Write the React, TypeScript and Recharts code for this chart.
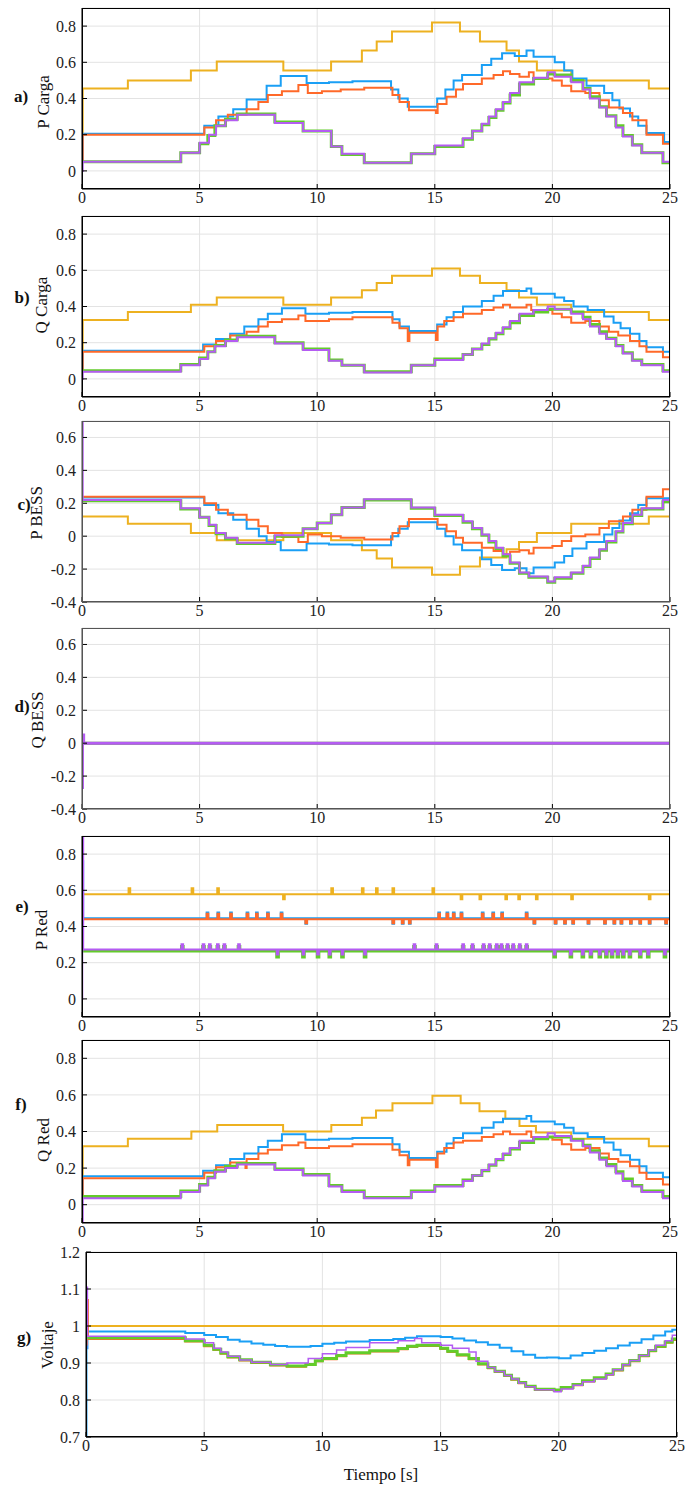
import React from 'react';
import { LineChart, Line, XAxis, YAxis, CartesianGrid } from 'recharts';

const YELLOW = '#EDB120';
const BLUE = '#1A9FF5';
const RED = '#FF6929';
const GREEN = '#63CC2A';
const PURPLE = '#B45CF2';

const X_TICKS = [0, 5, 10, 15, 20, 25];
const TICKS_LOAD = [0, 0.2, 0.4, 0.6, 0.8];
const TICKS_BESS = [-0.4, -0.2, 0, 0.2, 0.4, 0.6];
const TICKS_VOLT = [0.7, 0.8, 0.9, 1, 1.1, 1.2];

type Pt = [number, number];

// a) P Carga
const aYellow: Pt[] = [[0, 0.2], [0.03, 0.455], [1.95, 0.5], [4.63, 0.555], [5.73, 0.605], [8.56, 0.555], [10.59, 0.605], [11.9, 0.665], [12.53, 0.715], [13.18, 0.77], [14.88, 0.82], [16.07, 0.77], [16.92, 0.715], [18.05, 0.665], [18.58, 0.605], [19.34, 0.555], [20.8, 0.5], [24.1, 0.455], [25, 0.455]];
const aBlue: Pt[] = [[0, 0.05], [0.03, 0.205], [5.2, 0.25], [5.8, 0.3], [6.43, 0.34], [7.0, 0.395], [7.85, 0.47], [8.45, 0.525], [9.55, 0.485], [10.5, 0.49], [11.5, 0.495], [13.14, 0.45], [13.45, 0.4], [13.85, 0.355], [15.1, 0.4], [15.45, 0.45], [15.8, 0.5], [16.16, 0.53], [17.0, 0.585], [17.4, 0.62], [17.86, 0.65], [18.4, 0.635], [18.9, 0.665], [19.2, 0.63], [20.1, 0.6], [20.5, 0.555], [20.85, 0.51], [21.45, 0.47], [22.2, 0.43], [22.55, 0.39], [22.85, 0.345], [23.3, 0.3], [23.65, 0.25], [24.0, 0.21], [24.75, 0.16], [25, 0.16]];
const aRed: Pt[] = [[0, 0.05], [0.03, 0.2], [5.2, 0.24], [5.7, 0.28], [6.2, 0.31], [7.0, 0.34], [7.5, 0.38], [7.9, 0.42], [8.5, 0.44], [9.2, 0.475], [9.6, 0.43], [10.2, 0.44], [11.0, 0.45], [12.0, 0.46], [13.2, 0.42], [13.5, 0.38], [13.9, 0.335], [15.05, 0.32], [15.12, 0.37], [15.5, 0.41], [15.9, 0.45], [16.2, 0.48], [17.0, 0.51], [17.5, 0.53], [17.9, 0.55], [18.2, 0.535], [18.6, 0.52], [19.0, 0.545], [19.2, 0.51], [20.0, 0.5], [20.4, 0.47], [20.8, 0.44], [21.4, 0.43], [22.0, 0.39], [22.4, 0.35], [23.0, 0.32], [23.4, 0.28], [24.0, 0.2], [24.7, 0.15], [25, 0.15]];
const aGreen: Pt[] = [[0, 0.05], [4.2, 0.1], [5.0, 0.15], [5.35, 0.195], [5.65, 0.25], [6.1, 0.285], [6.6, 0.315], [8.2, 0.27], [9.4, 0.22], [10.6, 0.135], [11.05, 0.09], [12.0, 0.045], [14.0, 0.095], [15.0, 0.135], [16.2, 0.175], [16.6, 0.22], [17.0, 0.255], [17.3, 0.295], [17.6, 0.335], [17.9, 0.375], [18.2, 0.42], [18.6, 0.48], [19.2, 0.51], [19.8, 0.535], [20.1, 0.53], [20.8, 0.5], [21.3, 0.455], [21.6, 0.41], [22.0, 0.355], [22.3, 0.305], [22.7, 0.25], [23.0, 0.195], [23.4, 0.145], [23.8, 0.1], [24.7, 0.045], [25, 0.045]];
const aPurple: Pt[] = [[0, 0], [0.03, 0.05], [4.2, 0.1], [5.0, 0.155], [5.4, 0.2], [5.7, 0.25], [6.1, 0.28], [6.6, 0.31], [8.2, 0.265], [9.4, 0.22], [10.6, 0.135], [11.05, 0.095], [12.0, 0.045], [14.0, 0.095], [15.0, 0.14], [16.2, 0.18], [16.6, 0.22], [17.0, 0.26], [17.3, 0.3], [17.6, 0.34], [17.9, 0.38], [18.2, 0.43], [18.6, 0.49], [19.2, 0.515], [19.8, 0.545], [20.1, 0.52], [20.8, 0.49], [21.3, 0.45], [21.6, 0.4], [22.0, 0.35], [22.3, 0.3], [22.7, 0.24], [23.0, 0.19], [23.4, 0.14], [23.8, 0.1], [24.7, 0.05], [25, 0.05]];

// b) Q Carga
const bYellow: Pt[] = [[0, 0.15], [0.03, 0.325], [1.95, 0.37], [4.63, 0.41], [5.73, 0.45], [8.56, 0.41], [10.59, 0.45], [11.9, 0.49], [12.53, 0.53], [13.18, 0.57], [14.88, 0.61], [16.07, 0.57], [16.92, 0.53], [18.05, 0.49], [18.58, 0.45], [19.34, 0.41], [20.8, 0.37], [24.1, 0.325], [25, 0.325]];
const bBlue: Pt[] = [[0, 0.04], [0.03, 0.155], [5.15, 0.19], [5.7, 0.22], [6.3, 0.25], [6.9, 0.29], [7.5, 0.33], [7.9, 0.36], [8.5, 0.39], [9.5, 0.36], [10.5, 0.365], [11.5, 0.37], [13.2, 0.33], [13.5, 0.29], [13.9, 0.265], [15.1, 0.3], [15.5, 0.34], [15.8, 0.37], [16.2, 0.4], [17.0, 0.43], [17.5, 0.46], [17.9, 0.485], [18.9, 0.5], [19.1, 0.47], [20.1, 0.45], [20.5, 0.43], [20.9, 0.4], [21.5, 0.38], [22.2, 0.345], [22.6, 0.31], [22.9, 0.28], [23.3, 0.25], [23.7, 0.21], [24.0, 0.175], [24.7, 0.15], [25, 0.15]];
const bRed: Pt[] = [[0, 0.04], [0.03, 0.15], [5.2, 0.18], [5.7, 0.21], [6.3, 0.24], [7.0, 0.26], [7.5, 0.29], [7.9, 0.315], [8.5, 0.33], [9.2, 0.35], [9.5, 0.32], [10.5, 0.33], [11.5, 0.34], [13.2, 0.31], [13.5, 0.28], [13.85, 0.21], [13.92, 0.255], [15.05, 0.215], [15.12, 0.29], [15.4, 0.32], [15.8, 0.34], [16.2, 0.36], [17.0, 0.38], [17.5, 0.395], [17.9, 0.41], [18.2, 0.395], [18.9, 0.41], [19.1, 0.38], [20.0, 0.36], [20.4, 0.34], [20.8, 0.31], [21.4, 0.32], [22.0, 0.29], [22.4, 0.26], [22.8, 0.24], [23.3, 0.21], [23.7, 0.18], [24.0, 0.15], [24.7, 0.12], [25, 0.12]];
const bGreen: Pt[] = [[0, 0.045], [4.2, 0.08], [5.0, 0.115], [5.35, 0.15], [5.65, 0.185], [6.1, 0.215], [6.6, 0.235], [8.2, 0.2], [9.4, 0.165], [10.5, 0.105], [11.05, 0.075], [12.0, 0.04], [14.0, 0.075], [15.0, 0.11], [16.2, 0.135], [16.6, 0.165], [17.0, 0.19], [17.3, 0.22], [17.6, 0.25], [17.9, 0.28], [18.2, 0.31], [18.6, 0.35], [19.2, 0.37], [19.8, 0.385], [20.1, 0.385], [20.8, 0.37], [21.3, 0.34], [21.6, 0.3], [22.0, 0.26], [22.3, 0.225], [22.7, 0.185], [23.0, 0.145], [23.4, 0.105], [23.8, 0.08], [24.7, 0.045], [25, 0.045]];
const bPurple: Pt[] = [[0, 0], [0.03, 0.04], [4.2, 0.075], [5.0, 0.11], [5.35, 0.15], [5.65, 0.18], [6.1, 0.21], [6.6, 0.23], [8.2, 0.195], [9.4, 0.16], [10.5, 0.1], [11.05, 0.075], [12.0, 0.035], [14.0, 0.075], [15.0, 0.105], [16.2, 0.135], [16.6, 0.165], [17.0, 0.195], [17.3, 0.225], [17.6, 0.255], [17.9, 0.285], [18.2, 0.32], [18.6, 0.36], [19.2, 0.38], [19.8, 0.4], [20.1, 0.385], [20.8, 0.36], [21.3, 0.33], [21.6, 0.29], [22.0, 0.25], [22.3, 0.22], [22.7, 0.18], [23.0, 0.14], [23.4, 0.1], [23.8, 0.075], [24.7, 0.04], [25, 0.04]];

// c) P BESS
const cYellow: Pt[] = [[0, 0.12], [1.95, 0.075], [4.63, 0.02], [5.73, -0.025], [8.56, 0.02], [10.59, -0.025], [11.9, -0.085], [12.53, -0.135], [13.18, -0.19], [14.88, -0.235], [16.07, -0.185], [16.92, -0.13], [18.05, -0.08], [18.58, -0.035], [19.34, 0.02], [20.8, 0.075], [24.1, 0.12], [25, 0.12]];
const cBlue: Pt[] = [[0, 0.235], [5.2, 0.19], [5.8, 0.14], [6.43, 0.1], [7.0, 0.045], [7.52, 0.0], [7.85, -0.035], [8.45, -0.085], [9.55, -0.045], [10.5, -0.05], [11.5, -0.055], [13.14, 0.0], [13.45, 0.045], [13.85, 0.085], [15.1, 0.045], [15.45, 0.0], [15.8, -0.05], [16.16, -0.085], [17.0, -0.14], [17.4, -0.175], [17.86, -0.205], [18.4, -0.195], [18.9, -0.225], [19.2, -0.19], [20.1, -0.16], [20.5, -0.12], [20.85, -0.075], [21.45, -0.035], [22.2, 0.01], [22.55, 0.05], [22.85, 0.095], [23.3, 0.14], [23.65, 0.19], [24.0, 0.23], [25, 0.23]];
const cRed: Pt[] = [[0, 0.24], [5.2, 0.2], [5.7, 0.16], [6.2, 0.13], [7.0, 0.1], [7.5, 0.06], [7.9, 0.02], [8.5, -0.005], [9.2, -0.035], [9.6, 0.01], [10.2, 0.0], [11.0, -0.01], [12.0, -0.02], [13.2, 0.02], [13.5, 0.06], [13.9, 0.105], [15.12, 0.07], [15.5, 0.03], [15.9, -0.01], [16.2, -0.04], [17.0, -0.07], [17.5, -0.09], [17.9, -0.11], [18.2, -0.095], [18.6, -0.085], [19.0, -0.105], [19.2, -0.07], [20.0, -0.06], [20.4, -0.03], [20.8, 0.0], [21.4, 0.01], [22.0, 0.05], [22.4, 0.09], [23.0, 0.12], [23.4, 0.16], [24.0, 0.24], [24.7, 0.285], [25, 0.285]];
const cGreen: Pt[] = [[0, 0.215], [4.2, 0.165], [5.0, 0.115], [5.4, 0.065], [5.7, 0.015], [6.1, -0.015], [6.6, -0.045], [8.2, 0.0], [9.4, 0.045], [10.0, 0.08], [10.6, 0.13], [11.05, 0.175], [12.0, 0.22], [14.0, 0.17], [15.0, 0.125], [16.2, 0.085], [16.6, 0.045], [17.0, 0.005], [17.3, -0.035], [17.6, -0.075], [17.9, -0.12], [18.2, -0.165], [18.6, -0.225], [19.0, -0.25], [19.8, -0.28], [20.1, -0.255], [20.8, -0.225], [21.3, -0.185], [21.6, -0.135], [22.0, -0.085], [22.3, -0.035], [22.7, 0.025], [23.0, 0.075], [23.4, 0.125], [23.8, 0.165], [24.7, 0.21], [25, 0.21]];
const cPurple: Pt[] = [[0, 0.7], [0.03, 0.22], [4.2, 0.17], [5.0, 0.115], [5.4, 0.07], [5.7, 0.02], [6.1, -0.01], [6.6, -0.04], [8.2, 0.005], [9.4, 0.045], [10.0, 0.08], [10.6, 0.13], [11.05, 0.175], [12.0, 0.225], [14.0, 0.175], [15.0, 0.13], [16.2, 0.09], [16.6, 0.05], [17.0, 0.01], [17.3, -0.03], [17.6, -0.07], [17.9, -0.11], [18.2, -0.16], [18.6, -0.22], [19.0, -0.245], [19.8, -0.275], [20.1, -0.25], [20.8, -0.22], [21.3, -0.18], [21.6, -0.13], [22.0, -0.08], [22.3, -0.03], [22.7, 0.03], [23.0, 0.08], [23.4, 0.13], [23.8, 0.17], [24.7, 0.22], [25, 0.22]];

// d) Q BESS
const dFlat: Pt[] = [[0, 0], [25, 0]];
const dPurple: Pt[] = [[0, -0.27], [0.02, 0.05], [0.07, 0], [25, 0]];

// e) P Red: base level, spike levels and spike instants
const eYellowLevels = [0.578, 0.612, 0.55];
const eBlueLevels = [0.445, 0.478, 0.415];
const eRedLevels = [0.44, 0.47, 0.418];
const eGreenLevels = [0.265, 0.29, 0.232];
const ePurpleLevels = [0.273, 0.302, 0.245];
const eYellowUp = [1.98, 4.66, 5.75, 10.6, 11.9, 12.5, 13.2, 14.9];
const eYellowDown = [8.55, 16.1, 16.9, 18.0, 18.55, 19.3, 20.8, 24.1];
const eBlueUp = [5.3, 5.76, 6.3, 7.0, 7.4, 7.87, 8.45, 15.15, 15.5, 15.77, 16.1, 17.0, 17.45, 17.83, 18.87];
const eBlueDown = [9.5, 13.2, 13.6, 13.9, 19.2, 20.1, 20.5, 20.85, 21.5, 22.2, 22.6, 22.9, 23.3, 23.7, 24.1, 24.8];
const eGreenUp = [4.23, 5.13, 5.4, 5.74, 6.02, 6.64, 14.1, 15.04, 16.17, 16.57, 17.04, 17.3, 17.6, 17.8, 18.06, 18.3, 18.58, 18.87];
const eGreenDown = [8.28, 9.38, 10.0, 10.5, 11.04, 12.0, 20.06, 20.75, 21.26, 21.6, 21.98, 22.26, 22.5, 22.75, 22.98, 23.26, 23.7, 24.04, 24.75];

// f) Q Red
const fYellow: Pt[] = [[0, 0.15], [0.03, 0.32], [1.95, 0.36], [4.65, 0.4], [5.75, 0.435], [8.55, 0.4], [10.6, 0.435], [11.9, 0.475], [12.5, 0.515], [13.2, 0.555], [14.9, 0.595], [16.1, 0.555], [16.9, 0.51], [18.0, 0.47], [18.6, 0.43], [19.3, 0.395], [20.8, 0.36], [24.1, 0.32], [25, 0.32]];
const fBlue: Pt[] = [[0, 0.04], [0.03, 0.155], [5.15, 0.185], [5.7, 0.215], [6.3, 0.25], [6.9, 0.28], [7.5, 0.315], [7.9, 0.35], [8.5, 0.385], [9.5, 0.355], [10.5, 0.36], [11.5, 0.365], [13.2, 0.33], [13.5, 0.29], [13.9, 0.255], [15.1, 0.29], [15.5, 0.335], [15.8, 0.365], [16.2, 0.39], [17.0, 0.42], [17.5, 0.45], [17.9, 0.47], [18.9, 0.485], [19.1, 0.455], [20.1, 0.44], [20.5, 0.42], [20.9, 0.39], [21.5, 0.37], [22.2, 0.34], [22.6, 0.3], [22.9, 0.27], [23.3, 0.245], [23.7, 0.21], [24.0, 0.175], [24.7, 0.15], [25, 0.15]];
const fRed: Pt[] = [[0, 0.04], [0.03, 0.145], [5.2, 0.175], [5.7, 0.205], [6.3, 0.23], [6.95, 0.2], [7.0, 0.25], [7.5, 0.28], [7.9, 0.3], [8.5, 0.325], [9.2, 0.34], [9.5, 0.31], [10.5, 0.32], [11.5, 0.33], [13.2, 0.3], [13.5, 0.27], [13.85, 0.215], [13.92, 0.245], [15.05, 0.205], [15.12, 0.28], [15.4, 0.31], [15.8, 0.34], [16.2, 0.35], [17.0, 0.37], [17.5, 0.385], [17.9, 0.4], [18.2, 0.385], [18.9, 0.4], [19.1, 0.37], [20.0, 0.355], [20.4, 0.33], [20.8, 0.3], [21.4, 0.31], [22.0, 0.28], [22.4, 0.25], [22.8, 0.235], [23.3, 0.21], [23.7, 0.175], [24.0, 0.14], [24.7, 0.11], [25, 0.11]];
const fGreen: Pt[] = [[0, 0.045], [4.2, 0.075], [5.0, 0.11], [5.35, 0.15], [5.65, 0.185], [6.1, 0.21], [6.6, 0.225], [8.2, 0.195], [9.4, 0.165], [10.5, 0.105], [11.05, 0.075], [12.0, 0.04], [14.0, 0.075], [15.0, 0.105], [16.2, 0.135], [16.6, 0.16], [17.0, 0.185], [17.3, 0.215], [17.6, 0.245], [17.9, 0.275], [18.2, 0.305], [18.6, 0.34], [19.2, 0.36], [19.8, 0.37], [20.1, 0.37], [20.8, 0.355], [21.3, 0.325], [21.6, 0.295], [22.0, 0.255], [22.3, 0.22], [22.7, 0.18], [23.0, 0.14], [23.4, 0.105], [23.8, 0.075], [24.7, 0.045], [25, 0.045]];
const fPurple: Pt[] = [[0, -0.1], [0.03, 0.035], [4.2, 0.07], [5.0, 0.105], [5.35, 0.145], [5.65, 0.18], [6.1, 0.2], [6.6, 0.22], [8.2, 0.19], [9.4, 0.16], [10.5, 0.1], [11.05, 0.07], [12.0, 0.035], [14.0, 0.07], [15.0, 0.1], [16.2, 0.13], [16.6, 0.16], [17.0, 0.19], [17.3, 0.22], [17.6, 0.25], [17.9, 0.28], [18.2, 0.31], [18.6, 0.35], [19.2, 0.37], [19.8, 0.39], [20.1, 0.375], [20.8, 0.35], [21.3, 0.32], [21.6, 0.285], [22.0, 0.245], [22.3, 0.21], [22.7, 0.17], [23.0, 0.13], [23.4, 0.1], [23.8, 0.07], [24.7, 0.035], [25, 0.035]];

// g) Voltaje
const gYellow: Pt[] = [[0, 1.0], [25, 1.0]];
const gBlue: Pt[] = [[0, 0.7], [0.02, 0.94], [0.06, 0.985], [4.2, 0.981], [5.0, 0.976], [5.5, 0.97], [6.0, 0.963], [6.5, 0.958], [7.0, 0.953], [7.5, 0.949], [8.0, 0.946], [8.5, 0.944], [9.5, 0.946], [10.0, 0.952], [10.5, 0.955], [11.0, 0.958], [12.0, 0.962], [13.0, 0.965], [13.5, 0.968], [14.0, 0.972], [15.0, 0.97], [15.5, 0.966], [16.0, 0.961], [16.5, 0.956], [17.0, 0.949], [17.5, 0.941], [18.0, 0.932], [18.5, 0.922], [19.0, 0.914], [19.5, 0.915], [20.0, 0.913], [20.5, 0.92], [21.0, 0.927], [21.5, 0.933], [22.0, 0.94], [22.5, 0.947], [23.0, 0.955], [23.5, 0.964], [24.0, 0.974], [24.5, 0.985], [24.8, 0.99], [25, 0.99]];
const gRed: Pt[] = [[0, 0.95], [0.03, 1.07], [0.08, 0.965], [4.2, 0.958], [5.0, 0.945], [5.4, 0.935], [5.7, 0.925], [6.0, 0.915], [6.5, 0.907], [7.0, 0.9], [7.8, 0.893], [8.5, 0.89], [9.3, 0.895], [9.7, 0.905], [10.0, 0.91], [10.6, 0.918], [11.0, 0.926], [12.0, 0.931], [13.2, 0.937], [13.6, 0.943], [14.0, 0.946], [15.0, 0.938], [15.3, 0.93], [15.7, 0.92], [16.2, 0.91], [16.6, 0.896], [17.0, 0.886], [17.3, 0.876], [17.7, 0.865], [18.0, 0.855], [18.3, 0.845], [18.6, 0.835], [19.0, 0.827], [19.8, 0.825], [20.1, 0.832], [20.6, 0.84], [21.0, 0.85], [21.5, 0.858], [22.0, 0.868], [22.3, 0.88], [22.7, 0.893], [23.0, 0.905], [23.4, 0.918], [23.8, 0.932], [24.1, 0.943], [24.5, 0.955], [24.8, 0.962], [25, 0.962]];
const gGreen: Pt[] = [[0, 0.968], [4.2, 0.96], [5.0, 0.948], [5.4, 0.937], [5.7, 0.927], [6.0, 0.917], [6.5, 0.909], [7.0, 0.902], [7.8, 0.895], [8.5, 0.892], [9.3, 0.896], [9.7, 0.906], [10.0, 0.912], [10.6, 0.92], [11.0, 0.928], [12.0, 0.933], [13.2, 0.939], [13.6, 0.945], [14.0, 0.948], [15.0, 0.94], [15.3, 0.932], [15.7, 0.922], [16.2, 0.912], [16.6, 0.898], [17.0, 0.888], [17.3, 0.878], [17.7, 0.867], [18.0, 0.857], [18.3, 0.847], [18.6, 0.837], [19.0, 0.829], [19.8, 0.827], [20.1, 0.834], [20.6, 0.842], [21.0, 0.852], [21.5, 0.86], [22.0, 0.87], [22.3, 0.882], [22.7, 0.895], [23.0, 0.907], [23.4, 0.92], [23.8, 0.934], [24.1, 0.945], [24.5, 0.957], [24.8, 0.965], [25, 0.965]];
const gPurple: Pt[] = [[0, 0.94], [0.02, 1.105], [0.06, 0.972], [4.2, 0.965], [5.0, 0.955], [5.4, 0.94], [5.7, 0.93], [6.0, 0.918], [6.5, 0.908], [7.0, 0.902], [7.8, 0.896], [8.5, 0.9], [9.4, 0.912], [10.0, 0.925], [10.6, 0.935], [11.0, 0.942], [12.0, 0.955], [13.2, 0.96], [13.9, 0.966], [14.2, 0.955], [15.0, 0.948], [15.5, 0.94], [16.2, 0.93], [16.5, 0.905], [17.0, 0.888], [17.3, 0.877], [17.7, 0.866], [18.0, 0.857], [18.3, 0.846], [18.6, 0.836], [19.0, 0.828], [19.8, 0.822], [20.1, 0.83], [20.6, 0.84], [21.0, 0.849], [21.5, 0.857], [22.0, 0.868], [22.3, 0.882], [22.7, 0.895], [23.0, 0.907], [23.4, 0.92], [23.8, 0.935], [24.1, 0.948], [24.5, 0.96], [24.8, 0.975], [25, 0.975]];

// builds a flat signal with short switching spikes
function spiky(levels: number[], upT: number[], downT: number[], start: Pt[]): Pt[] {
  const [base, up, down] = levels;
  const events: Pt[] = [...upT.map((t) => [t, up] as Pt), ...downT.map((t) => [t, down] as Pt)];
  events.sort((p, q) => p[0] - q[0]);
  const out: Pt[] = [...start];
  events.forEach(([t, v]) => {
    out.push([t, v]);
    out.push([t + 0.07, base]);
  });
  out.push([25, base]);
  return out;
}

const eYellow = spiky(eYellowLevels, eYellowUp, eYellowDown, [[0, 0.578]]);
const eBlue = spiky(eBlueLevels, eBlueUp, eBlueDown, [[0, 0.3], [0.02, 0.76], [0.05, 0.445]]);
const eRed = spiky(eRedLevels, eBlueUp, eBlueDown, [[0, 0.44]]);
const eGreen = spiky(eGreenLevels, eGreenUp, eGreenDown, [[0, 0.265]]);
const ePurple = spiky(ePurpleLevels, eGreenUp, eGreenDown, [[0, 0], [0.01, 0.9], [0.05, 0.273]]);

interface Series { data: Pt[]; color: string; width: number }
interface PanelCfg {
  top: number; bottom: number; left: number; right: number;
  domain: [number, number]; ticks: number[];
  letter: string; label: string;
  letterPos: [number, number]; labelPos: [number, number];
  border: string;
  series: Series[];
}

const std = (y: Pt[], b: Pt[], r: Pt[], g: Pt[], p: Pt[], pw = 2): Series[] => [
  { data: y, color: YELLOW, width: 2 },
  { data: b, color: BLUE, width: 2 },
  { data: r, color: RED, width: 2 },
  { data: g, color: GREEN, width: 3 },
  { data: p, color: PURPLE, width: pw },
];

const PANELS: PanelCfg[] = [
  { top: 8, bottom: 189, left: 82, right: 670, domain: [-0.1, 0.9], ticks: TICKS_LOAD, letter: 'a)', label: 'P Carga', letterPos: [21, 97], labelPos: [44, 102], border: '#000', series: std(aYellow, aBlue, aRed, aGreen, aPurple) },
  { top: 216, bottom: 397, left: 82, right: 670, domain: [-0.1, 0.9], ticks: TICKS_LOAD, letter: 'b)', label: 'Q Carga', letterPos: [22, 298], labelPos: [42, 305], border: '#000', series: std(bYellow, bBlue, bRed, bGreen, bPurple) },
  { top: 421, bottom: 602, left: 82, right: 670, domain: [-0.4, 0.7], ticks: TICKS_BESS, letter: 'c)', label: 'P BESS', letterPos: [24, 505], labelPos: [37, 513], border: '#555', series: std(cYellow, cBlue, cRed, cGreen, cPurple) },
  { top: 628, bottom: 809, left: 82, right: 670, domain: [-0.4, 0.7], ticks: TICKS_BESS, letter: 'd)', label: 'Q BESS', letterPos: [22, 707], labelPos: [38, 720], border: '#555', series: std(dFlat, dFlat, dFlat, dFlat, dPurple, 3) },
  { top: 836, bottom: 1017, left: 82, right: 670, domain: [-0.1, 0.9], ticks: TICKS_LOAD, letter: 'e)', label: 'P Red', letterPos: [22, 907], labelPos: [42, 930], border: '#000', series: std(eYellow, eBlue, eRed, eGreen, ePurple) },
  { top: 1040, bottom: 1223, left: 82, right: 670, domain: [-0.1, 0.9], ticks: TICKS_LOAD, letter: 'f)', label: 'Q Red', letterPos: [21, 1105], labelPos: [44, 1140], border: '#000', series: std(fYellow, fBlue, fRed, fGreen, fPurple) },
  { top: 1252, bottom: 1437, left: 86, right: 677, domain: [0.7, 1.2], ticks: TICKS_VOLT, letter: 'g)', label: 'Voltaje', letterPos: [24, 1338], labelPos: [48, 1345], border: '#000', series: std(gYellow, gBlue, gRed, gGreen, gPurple, 1.5) },
];

const FONT = '"Liberation Serif", "Times New Roman", serif';

// tick labels drawn by hand so the serif face is certain
const XTick = (props: any) => {
  const { x, y, payload } = props;
  return (
    <text x={x} y={y} dy="0.71em" textAnchor="middle" fill="#222"
      style={{ fontFamily: FONT, fontSize: 16 }}>{String(payload.value)}</text>
  );
};
const YTick = (props: any) => {
  const { x, y, payload } = props;
  return (
    <text x={x} y={y} dy="0.36em" textAnchor="end" fill="#222"
      style={{ fontFamily: FONT, fontSize: 16 }}>{String(payload.value)}</text>
  );
};

function Panel({ cfg }: { cfg: PanelCfg }) {
  const mTop = 10;
  const xH = 26;
  const plotH = cfg.bottom - cfg.top;
  const height = mTop + plotH + xH;
  return (
    <div style={{ position: 'absolute', left: 0, top: cfg.top - mTop, width: 697, height, fontFamily: FONT }}>
      <LineChart width={697} height={height} style={{ fontFamily: FONT }}
        margin={{ top: mTop, right: 697 - cfg.right, bottom: 0, left: cfg.left - 40 }}>
        <CartesianGrid stroke="#e3e3e3" strokeWidth={1} />
        <XAxis dataKey="t" type="number" domain={[0, 25]} ticks={X_TICKS} allowDataOverflow
          height={xH} tickSize={-5} tickMargin={8} tick={<XTick />}
          stroke={cfg.border} tickLine={{ stroke: '#000' }} />
        <XAxis xAxisId="top" orientation="top" type="number" domain={[0, 25]} ticks={X_TICKS} allowDataOverflow
          height={0} tickSize={-5} tick={false} stroke={cfg.border} tickLine={{ stroke: '#000' }} />
        <YAxis type="number" domain={cfg.domain} ticks={cfg.ticks} allowDataOverflow width={40}
          tickSize={-5} tickMargin={11} tick={<YTick />} stroke={cfg.border} tickLine={{ stroke: '#000' }} />
        <YAxis yAxisId="r" orientation="right" type="number" domain={cfg.domain} ticks={cfg.ticks} allowDataOverflow width={0}
          tickSize={-5} tick={false} stroke={cfg.border} tickLine={{ stroke: '#000' }} />
        {cfg.series.map((s, i) => (
          <Line key={i} data={s.data.map(([t, v]) => ({ t, v }))} dataKey="v" type="stepAfter"
            stroke={s.color} strokeWidth={s.width} dot={false} isAnimationActive={false} />
        ))}
      </LineChart>
      <div style={{ position: 'absolute', left: cfg.left, top: mTop, width: cfg.right - cfg.left, height: plotH,
        border: `1px solid ${cfg.border}`, boxSizing: 'border-box', pointerEvents: 'none', marginLeft: -0.5, marginTop: -0.5 }} />
      <div style={{ position: 'absolute', left: cfg.letterPos[0], top: cfg.letterPos[1] - cfg.top + mTop,
        transform: 'translate(-50%, -50%)', fontWeight: 'bold', fontSize: 17, color: '#111' }}>
        {cfg.letter}
      </div>
      <div style={{ position: 'absolute', left: cfg.labelPos[0], top: cfg.labelPos[1] - cfg.top + mTop,
        transform: 'translate(-50%, -50%) rotate(-90deg)', fontSize: 17, color: '#111', whiteSpace: 'nowrap' }}>
        {cfg.label}
      </div>
    </div>
  );
}

export default function App() {
  return (
    <div style={{ position: 'absolute', left: 0, top: 0, width: 697, height: 1488, background: '#fff', fontFamily: FONT }}>
      {PANELS.map((p, i) => <Panel key={i} cfg={p} />)}
      <div style={{ position: 'absolute', left: 381, top: 1475, transform: 'translate(-50%, -50%)',
        fontSize: 17, color: '#111', whiteSpace: 'nowrap' }}>
        Tiempo [s]
      </div>
    </div>
  );
}
